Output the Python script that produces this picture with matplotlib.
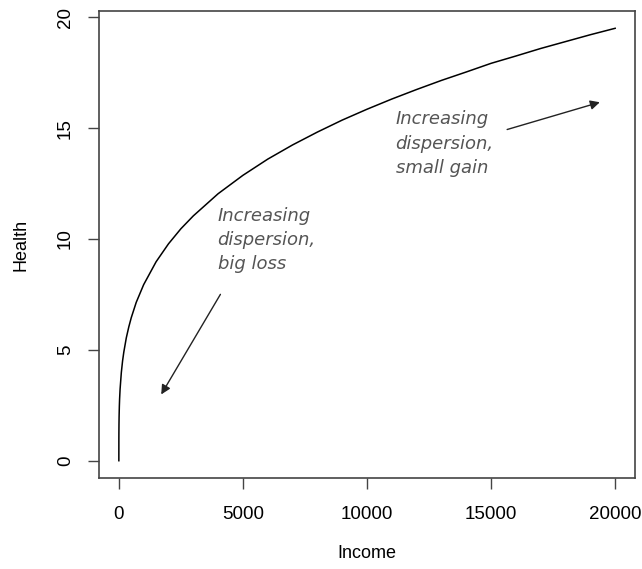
import matplotlib
matplotlib.use("Agg")
import matplotlib.pyplot as plt

# Values
income = [0, 1, 2, 5, 10, 20, 30, 50, 100, 150, 200, 300, 400, 500, 700, 1000, 1500,
          2000, 2500, 3000, 4000, 5000, 6000, 7000, 8000, 9000, 10000, 11000, 12000,
          13000, 14000, 15000, 16000, 17000, 18000, 19000, 20000]
health = [0, 1.0, 1.23, 1.62, 2.0, 2.46, 2.78, 3.23, 3.98, 4.50, 4.90, 5.54, 6.03,
          6.45, 7.14, 7.94, 8.97, 9.78, 10.46, 11.04, 12.04, 12.87, 13.60, 14.24,
          14.82, 15.36, 15.85, 16.31, 16.74, 17.15, 17.53, 17.92, 18.25, 18.59,
          18.90, 19.21, 19.5]

x_ticks = [0, 5000, 10000, 15000, 20000]
y_ticks = [0, 5, 10, 15, 20]

note_loss = "Increasing\ndispersion,\nbig loss"
note_gain = "Increasing\ndispersion,\nsmall gain"

plt.rcParams['font.family'] = ['Liberation Sans', 'DejaVu Sans']

W, H = 642, 569
fig = plt.figure(figsize=(W / 100, H / 100), dpi=100)
ax = fig.add_axes([99 / W, 1 - 478 / H, (635 - 99) / W, (478 - 11) / H])

ax.plot(income, health, color='black', lw=1.1)

ax.set_xlim(-800, 20800)
ax.set_ylim(-0.78, 20.28)
ax.set_xticks(x_ticks)
ax.set_yticks(y_ticks)
ax.set_xticklabels([str(t) for t in x_ticks], fontsize=13.5)
ax.set_yticklabels([str(t) for t in y_ticks], fontsize=13.5, rotation=90, va='center')
ax.tick_params(axis='both', length=8, width=1, color='#444')
ax.tick_params(axis='x', pad=12)
ax.tick_params(axis='y', pad=10)
for s in ax.spines.values():
    s.set_color('#444')
    s.set_linewidth(1.2)

ax.set_xlabel("Income", fontsize=13, labelpad=16)
ax.set_ylabel("Health", fontsize=13, labelpad=20)

hand = dict(fontsize=13, color='#555555', family=['DejaVu Sans'], style='oblique',
            fontweight='light', linespacing=1.45, va='top', ha='left')
ax.text(3980, 11.45, note_loss, **hand)
ax.text(11150, 15.8, note_gain, **hand)

arrow = dict(arrowstyle='-|>', color='#222222', lw=1.0, mutation_scale=14)
ax.annotate('', xy=(1650, 2.88), xytext=(4150, 7.61), arrowprops=arrow)
ax.annotate('', xy=(19490, 16.2), xytext=(15540, 14.9), arrowprops=arrow)

fig.savefig("out.png", dpi=100)
